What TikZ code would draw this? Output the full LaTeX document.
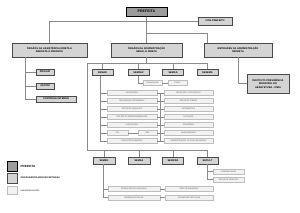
\documentclass[tikz,border=0pt]{standalone}
\usepackage{fontspec}
\setmainfont{Liberation Sans}
\usepackage{tikz}
\usetikzlibrary{calc,positioning}
\definecolor{ChiefFill}{HTML}{9C9C9C}
\definecolor{OrgFill}{HTML}{D4D4D4}
\definecolor{UnitFill}{HTML}{F2F2F2}
\definecolor{LinkCol}{HTML}{8A8A8A}
\definecolor{FrameCol}{HTML}{4A4A4A}
\definecolor{UnitLine}{HTML}{BDBDBD}

\begin{document}
\begin{tikzpicture}[x=1pt,y=-1pt,
  chief/.style={draw=black,line width=1pt,fill=ChiefFill,inner sep=0pt,font=\fontsize{3.6}{4}\selectfont\bfseries},
  org/.style={draw=FrameCol,line width=0.7pt,fill=OrgFill,inner sep=0pt,align=center,font=\fontsize{2.5}{3.4}\selectfont\bfseries},
  unit/.style={draw=UnitLine,line width=0.4pt,fill=UnitFill,inner sep=0pt,text=black!70,minimum height=5pt,font=\fontsize{1.9}{2.3}\selectfont},
  link/.style={draw=LinkCol,line width=0.5pt}]
  \useasboundingbox (0,0) rectangle (300,212);
  % top level
  \node[chief,minimum width=41pt,minimum height=9pt] (pref) at (146.5,11.5) {PREFEITA};
  \node[org,minimum width=34pt,minimum height=8pt] (vice) at (215,21) {VICE-PREFEITO};
  \node[org,minimum width=75pt,minimum height=14pt] (assist) at (49.5,50) {ÓRGÃOS DA ASSISTÊNCIA DIRETA E\\IMEDIATA À PREFEITA};
  \node[org,minimum width=71pt,minimum height=14pt] (admin) at (146.5,50) {ÓRGÃOS DA ADMINISTRAÇÃO\\GERAL E DIRETA};
  \node[org,minimum width=68pt,minimum height=14pt] (entid) at (238,50) {ENTIDADES DA ADMINISTRAÇÃO\\INDIRETA};
  \coordinate (jv) at (146.5,21);
  \coordinate (je) at (146.5,33);
  \draw[link] (pref.south) -- (admin.north);
  \draw[link] (jv) -- (vice.west);
  \draw[link] (jv) -| (assist.north);
  \draw[link] (je) -| ([xshift=-31pt]entid.north);
  % assistencia
  \node[org,minimum width=18pt,minimum height=6pt] (projur) at (45,72) {PROJUR};
  \node[org,minimum width=18pt,minimum height=6pt] (ascom) at (45,86) {ASCOM};
  \node[org,minimum width=40pt,minimum height=6pt] (ctrl) at (56,99) {CONTROLE INTERNO};
  \coordinate (la) at (25,57);
  \foreach \n in {projur,ascom,ctrl}
    \draw[link] (la) |- (\n.west);
  % entidades
  \node[org,minimum width=42pt,minimum height=19pt] (inst) at (268,83.5) {INSTITUTO PREVIDÊNCIA\\MUNICIPAL DE\\ABAETETUBA - IPMA};
  \draw[link] (entid.south) |- (inst.west);
  % secretarias
  \node[org,minimum width=21pt,minimum height=6pt] (semad) at (102.5,72.5) {SEMAD};
  \node[org,minimum width=21pt,minimum height=6pt] (semfaz) at (138.5,72.5) {SEMFAZ};
  \node[org,minimum width=21pt,minimum height=6pt] (semas) at (173,72.5) {SEMAS};
  \node[org,minimum width=21pt,minimum height=6pt] (sesema) at (207.5,72.5) {SESEMA};
  \node[org,minimum width=22pt,minimum height=7pt] (semed) at (104,160.5) {SEMED};
  \node[org,minimum width=22pt,minimum height=7pt] (semsa) at (139,160.5) {SEMSA};
  \node[org,minimum width=21pt,minimum height=7pt] (seinfra) at (173,160.5) {SEINFRA};
  \node[org,minimum width=21pt,minimum height=7pt] (secult) at (207.5,160.5) {SECULT};
  \coordinate (busL) at (87,63);
  \coordinate (busR) at (207.5,63);
  \coordinate (busL2) at (87,150);
  \coordinate (busR2) at (207.5,150);
  \draw[link] (admin.south) -- (admin.south |- busL);
  \draw[link] (busR) -- (busL) -- (busL2) -- (busR2);
  \foreach \s in {semad,semfaz,semas,sesema}
    \draw[link] (\s.north |- busL) -- (\s.north);
  \foreach \s in {semed,semsa,seinfra,secult}
    \draw[link] (\s.north |- busL2) -- (\s.north);
  % semfaz
  \node[unit,minimum width=19pt] (fz1) at (152.5,83) {TRIBUTAÇÃO};
  \node[unit,minimum width=19pt] (fz2) at (177.5,83) {FISCO};
  \draw[link] (semfaz.south) |- (fz1.west);
  \draw[link] (fz1) -- (fz2);
  % semad
  \node[unit,minimum width=50pt] (ad1) at (132,93) {ASSESSORIA};
  \node[unit,minimum width=50pt] (ad2) at (132,101) {SEGURANÇA PATRIMONIAL};
  \node[unit,minimum width=50pt] (ad3) at (132,109) {SETOR DE ARQUIVOS};
  \node[unit,minimum width=50pt] (ad4) at (132,117) {GESTÃO DE EMPREENDIMENTOS};
  \node[unit,minimum width=50pt] (ad5) at (132,125) {PUBLICAÇÃO};
  \node[unit,minimum width=21pt] (cpl) at (117.5,133) {CPL};
  \node[unit,minimum width=19pt] (srp) at (147.5,133) {SRP};
  \node[unit,minimum width=50pt] (ad7) at (132,141) {CADASTRO MUNICIPAL};
  \node[unit,minimum width=49pt] (ar1) at (188.5,93) {RECEPÇÃO / PROTOCOLO};
  \node[unit,minimum width=49pt] (ar2) at (188.5,101) {SETOR DE TOMBO};
  \node[unit,minimum width=49pt] (ar3) at (188.5,109) {INFORMÁTICA};
  \node[unit,minimum width=49pt] (ar4) at (188.5,117) {LICITAÇÃO};
  \node[unit,minimum width=49pt] (ar5) at (188.5,125) {CONVÊNIOS};
  \node[unit,minimum width=49pt] (ar6) at (188.5,133) {ALMOXARIFADO};
  \node[unit,minimum width=49pt] (ar7) at (188.5,141) {ADMINISTRAÇÃO DO PAÇO MUNICIPAL};
  \foreach \n in {ad1,ad2,ad3,ad4,ad5,cpl,ad7}
    \draw[link] ([xshift=-2.5pt]semad.south) |- (\n.west);
  \draw[link] (cpl) -- (srp);
  \foreach \a/\b in {ad1/ar1,ad2/ar2,ad3/ar3,ad4/ar4,ad5/ar5,srp/ar6,ad7/ar7}
    \draw[link] (\a.east) -- (\b.west);
  \draw[link] ($(ad1.east)!0.5!(ar1.west)$) -- ($(ad7.east)!0.5!(ar7.west)$);
  % semed
  \node[unit,minimum width=52pt] (ed1) at (134,189) {ENSINO BÁSICO MUNICIPAL};
  \node[unit,minimum width=52pt] (ed2) at (134,197.5) {MERENDA ESCOLAR};
  \node[unit,minimum width=48pt] (er1) at (189,189) {CRECHE MUNICIPAL};
  \node[unit,minimum width=48pt] (er2) at (189,197.5) {TRANSPORTE ESCOLAR};
  \foreach \n in {ed1,ed2}
    \draw[link] ([xshift=-1pt]semed.south) |- (\n.west);
  \draw[link] (ed1) -- (er1);
  \draw[link] (ed2) -- (er2);
  % secult
  \node[unit,minimum width=31pt] (cu1) at (228.5,171.5) {CONTABILIDADE};
  \node[unit,minimum width=31pt] (cu2) at (228.5,179.5) {SETOR DE TRIBUTOS};
  \foreach \n in {cu1,cu2}
    \draw[link] (secult.south) |- (\n.west);
  % legenda
  \node[chief,minimum width=10pt,minimum height=10pt] (lg1) at (12,166) {};
  \node[org,minimum width=10pt,minimum height=10pt] (lg2) at (12,178) {};
  \node[unit,minimum width=10pt,minimum height=8pt] (lg3) at (12,190.5) {};
  \node[right=3pt of lg1,inner sep=0pt,font=\fontsize{3}{3.5}\selectfont\bfseries] (lt1) {PREFEITA};
  \node[right=3pt of lg2,inner sep=0pt,font=\fontsize{2.2}{2.6}\selectfont\bfseries] (lt2) {ÓRGÃOS/ENTIDADES/SECRETARIAS};
  \node[right=3pt of lg3,inner sep=0pt,font=\fontsize{1.9}{2.3}\selectfont] (lt3) {UNIDADES/DIVISÕES};
\end{tikzpicture}
\end{document}
